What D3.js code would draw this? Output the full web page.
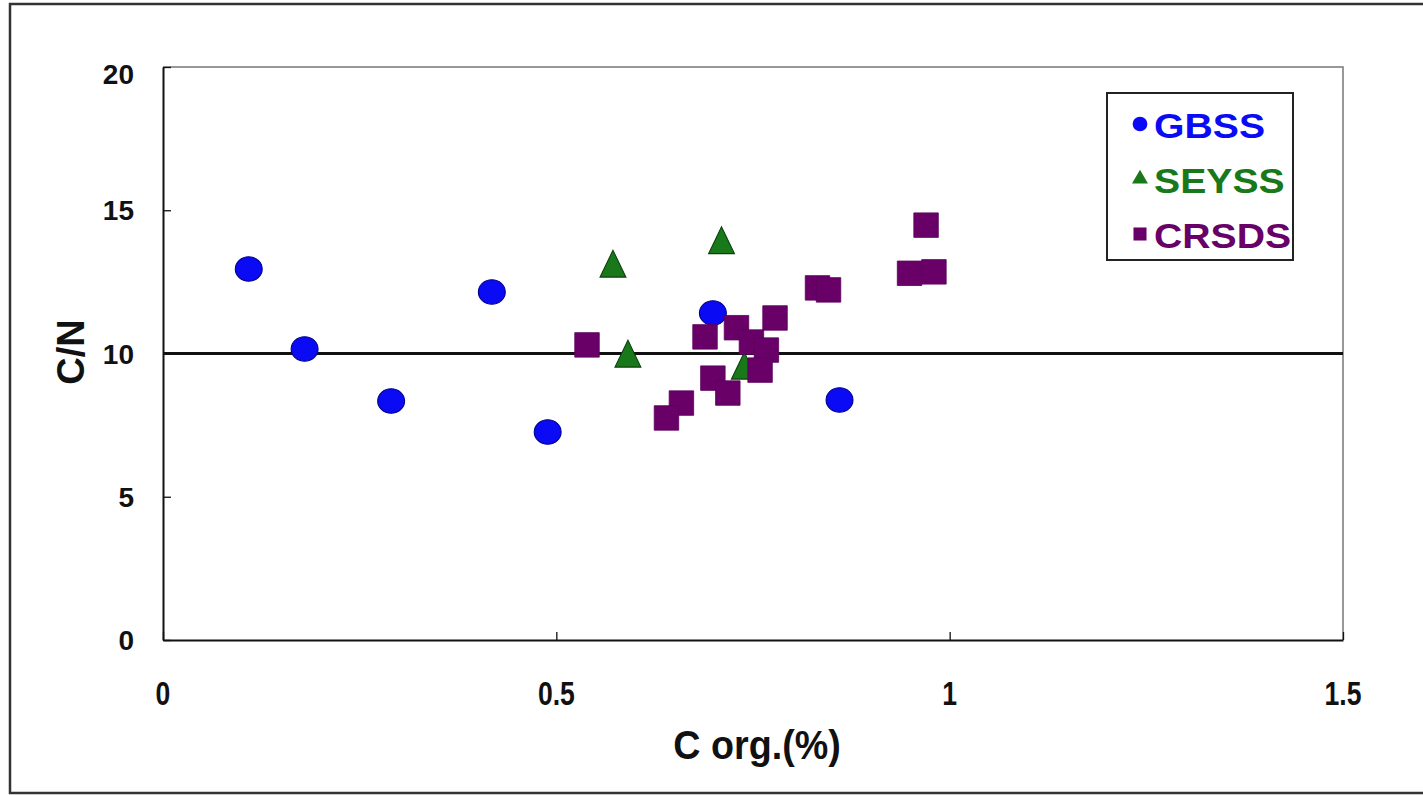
<!DOCTYPE html>
<html>
<head>
<meta charset="utf-8">
<script src="https://cdn.jsdelivr.net/npm/d3@7"></script>
<style>
  body { margin: 0; background: #fff; }
  text { font-family: "Liberation Sans", Arial, sans-serif; font-weight: bold; }
</style>
</head>
<body>
<svg id="chart" width="1423" height="795"></svg>
<script>
// data
var gbssX = [0.109, 0.180, 0.290, 0.418, 0.489, 0.699, 0.860];
var gbssY = [12.95, 10.16, 8.34, 12.15, 7.26, 11.41, 8.38];

var seyssX = [0.572, 0.710, 0.591, 0.739];
var seyssY = [12.98, 13.80, 9.84, 9.42];

var crsdsX = [0.539, 0.689, 0.729, 0.778, 0.748, 0.767, 0.759, 0.699, 0.718, 0.659, 0.640, 0.832, 0.846, 0.970, 0.949, 0.980];
var crsdsY = [10.30, 10.58, 10.90, 11.24, 10.40, 10.12, 9.42, 9.14, 8.62, 8.27, 7.75, 12.29, 12.22, 14.48, 12.80, 12.85];

var xTicks = [0, 0.5, 1, 1.5];
var yTicks = [0, 5, 10, 15, 20];
var refLine = 10;

var seriesNames = ["GBSS", "SEYSS", "CRSDS"];
var seriesColors = ["#0a0af5", "#18781a", "#680068"];

var svg = d3.select("#chart");

// outer frame
svg.append("rect")
  .attr("x", 10).attr("y", 4)
  .attr("width", 1430).attr("height", 789)
  .attr("fill", "none").attr("stroke", "#333").attr("stroke-width", 2.5);

var pLeft = 163, pRight = 1343, pTop = 67, pBottom = 640;

var x = d3.scaleLinear().domain([0, 1.5]).range([pLeft, pRight]);
var y = d3.scaleLinear().domain([0, 20]).range([pBottom, pTop]);

// plot area box (top/right lighter)
svg.append("path")
  .attr("d", "M" + pLeft + "," + pTop + "H" + pRight + "V" + pBottom)
  .attr("fill", "none").attr("stroke", "#777").attr("stroke-width", 1.5);

// axes
var xAxis = svg.append("g")
  .attr("transform", "translate(0," + pBottom + ")")
  .call(d3.axisTop(x).tickValues(xTicks).tickSize(8).tickSizeOuter(0).tickFormat(""));
xAxis.select(".domain").attr("stroke", "#111").attr("stroke-width", 2);
xAxis.selectAll(".tick line").attr("stroke", "#111").attr("stroke-width", 1.3);

var yAxis = svg.append("g")
  .attr("transform", "translate(" + pLeft + ",0)")
  .call(d3.axisRight(y).tickValues(yTicks).tickSize(8).tickSizeOuter(0).tickFormat(""));
yAxis.select(".domain").attr("stroke", "#111").attr("stroke-width", 2);
yAxis.selectAll(".tick line").attr("stroke", "#111").attr("stroke-width", 1.3);

// tick labels
svg.selectAll(".xlab").data(xTicks).enter().append("text")
  .attr("transform", function(d){ return "translate(" + x(d) + ",705) scale(0.78,1)"; })
  .attr("text-anchor", "middle")
  .attr("font-size", 34)
  .attr("fill", "#111")
  .text(function(d){ return d; });

svg.selectAll(".ylab").data(yTicks).enter().append("text")
  .attr("x", 134)
  .attr("y", function(d){ return y(d) + (d === 20 ? 17 : 10); })
  .attr("text-anchor", "end")
  .attr("font-size", 28)
  .attr("fill", "#111")
  .text(function(d){ return d; });

// axis titles
svg.append("text")
  .attr("transform", "translate(757,759) scale(0.92,1)")
  .attr("text-anchor", "middle")
  .attr("font-size", 41)
  .attr("fill", "#111")
  .text("C org.(%)");

svg.append("text")
  .attr("transform", "translate(84,352) rotate(-90)")
  .attr("text-anchor", "middle")
  .attr("font-size", 38)
  .attr("fill", "#111")
  .text("C/N");

// reference line C/N = 10
svg.append("line")
  .attr("x1", x(0)).attr("x2", x(1.5))
  .attr("y1", y(refLine)).attr("y2", y(refLine))
  .attr("stroke", "#111").attr("stroke-width", 3);

// markers
var circ = d3.symbol().type(d3.symbolCircle).size(470);
var tri = d3.symbol().type(d3.symbolTriangle).size(290);
var sq = d3.symbol().type(d3.symbolSquare).size(600);

svg.selectAll(".gbss").data(gbssX).enter().append("path")
  .attr("d", circ)
  .attr("transform", function(d, i){ return "translate(" + x(d) + "," + y(gbssY[i]) + ") scale(1.1,1)"; })
  .attr("fill", seriesColors[0]).attr("stroke", "#00008a").attr("stroke-width", 1);

svg.selectAll(".seyss").data(seyssX).enter().append("path")
  .attr("d", tri)
  .attr("transform", function(d, i){ return "translate(" + x(d) + "," + y(seyssY[i]) + ") scale(1,1.2)"; })
  .attr("fill", seriesColors[1]).attr("stroke", "#0b3f0b").attr("stroke-width", 1);

svg.selectAll(".crsds").data(crsdsX).enter().append("path")
  .attr("d", sq)
  .attr("transform", function(d, i){ return "translate(" + x(d) + "," + y(crsdsY[i]) + ")"; })
  .attr("fill", seriesColors[2]).attr("stroke", "#5a005a").attr("stroke-width", 0.8);

// legend
var lg = svg.append("g");
lg.append("rect")
  .attr("x", 1107).attr("y", 93).attr("width", 186).attr("height", 167)
  .attr("fill", "#fff").attr("stroke", "#222").attr("stroke-width", 2);

var legSyms = [d3.symbol().type(d3.symbolCircle).size(170),
               d3.symbol().type(d3.symbolTriangle).size(110),
               d3.symbol().type(d3.symbolSquare).size(170)];
var legY = [125, 180, 235];

seriesNames.forEach(function(name, i){
  lg.append("path")
    .attr("d", legSyms[i])
    .attr("transform", "translate(1140," + (legY[i] - 1) + ")")
    .attr("fill", seriesColors[i]);
  lg.append("text")
    .attr("transform", "translate(1154," + (legY[i] + 13) + ") scale(1.12,1)")
    .attr("font-size", 35)
    .attr("fill", seriesColors[i])
    .text(name);
});
</script>
</body>
</html>
